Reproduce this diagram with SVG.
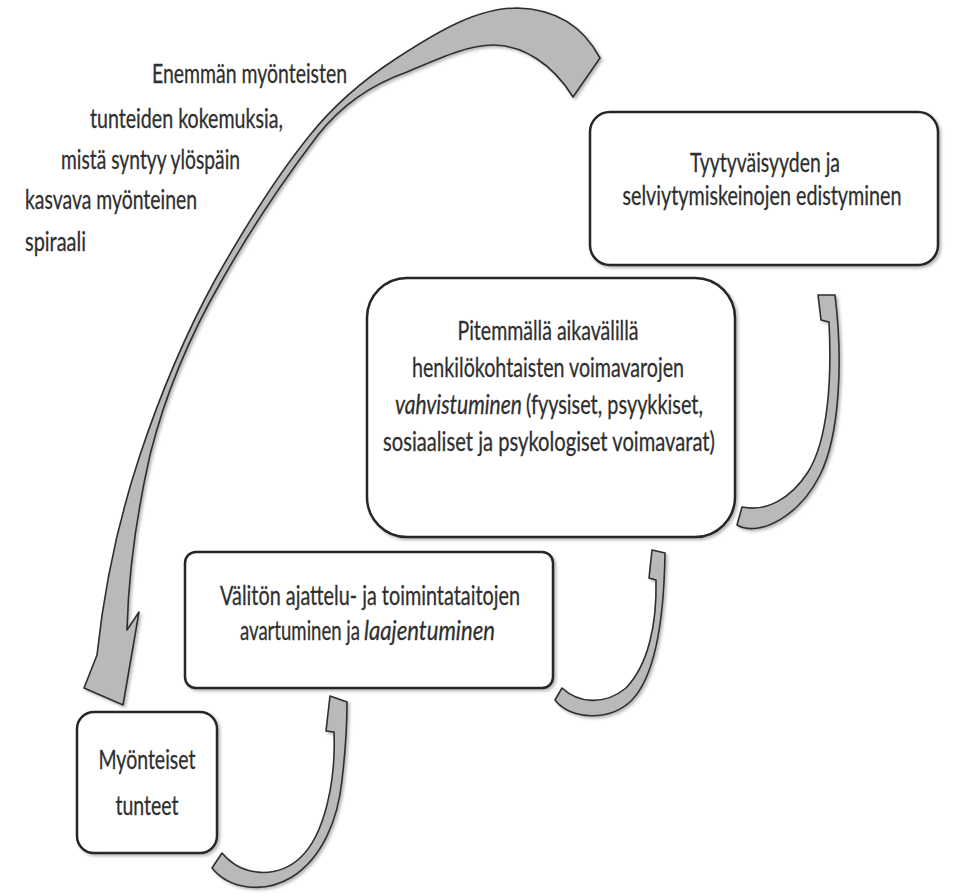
<svg xmlns="http://www.w3.org/2000/svg" width="953" height="894" viewBox="0 0 953 894">
  <style>
    .box { fill: #ffffff; stroke: #262626; stroke-width: 2.5; filter: url(#shadow); }
    .arrow { fill: #b9b9b9; stroke: #2e2e2e; stroke-width: 1.6; stroke-linejoin: round; filter: url(#shadow); }
    .t { font-family: Lato, "Liberation Sans", Arial, sans-serif; font-size: 27px; fill: #2f2f2f; stroke: #2f2f2f; stroke-width: 0.3; }
    .c { text-anchor: middle; }
    .i { font-style: italic; }
  </style>
  <defs>
    <filter id="shadow" x="-10%" y="-10%" width="130%" height="130%">
      <feDropShadow dx="2" dy="2" stdDeviation="1.8" flood-color="#000" flood-opacity="0.28"/>
    </filter>
  </defs>
  <rect width="953" height="894" fill="#ffffff"/>

  <!-- connectors: curved block arrows -->
  <g id="connectors">
    <!-- long spiral arrow back down to the first box -->
    <path class="arrow" d="M600,58 C585,30 560,9 517,8 C478,8 440,30 397,58 C360,82 330,110 310,135 C280,172 250,218 215,280 C185,335 160,395 140,455 C125,500 106,570 97,655 L84,688 L123,705 L139,612 L127,630 C128,590 133,530 150,455 C165,395 190,335 222,280 C255,222 285,178 318,135 C340,107 370,85 407,72 C440,58 468,45 493,45 C522,45 552,63 573,97 Z"/>
    <!-- Myönteiset tunteet -> Välitön -->
    <path class="arrow" d="M212,868 C228,888 262,895 292,877 C322,858 338,820 342,780 C345,755 347,725 347,702 L330,696 L326,731 L334,732 C336,780 325,835 300,858 C278,878 243,878 222,853 Z"/>
    <!-- Välitön -> Pitemmällä -->
    <path class="arrow" d="M555,700 C570,720 610,722 632,700 C655,676 664,620 665,553 L652,550 L649,578 L656,580 C657,625 648,665 626,688 C604,706 578,703 562,688 Z"/>
    <!-- Pitemmällä -> Tyytyväisyyden -->
    <path class="arrow" d="M737,525 C760,538 800,515 820,475 C840,435 843,360 835,295 L818,295 L821,320 L829,322 C832,380 828,440 808,472 C790,500 765,512 742,507 Z"/>
  </g>

  <!-- all wording is drawn in a horizontally narrowed frame (x scaled by 0.76) -->
  <g transform="scale(0.76,1)">
    <g id="spiral-label" class="t">
      <text x="200" y="83" textLength="256.6" lengthAdjust="spacingAndGlyphs">Enemmän myönteisten</text>
      <text x="118.4" y="128" textLength="253.9" lengthAdjust="spacingAndGlyphs">tunteiden kokemuksia,</text>
      <text x="80.3" y="169" textLength="235.5" lengthAdjust="spacingAndGlyphs">mistä syntyy ylöspäin</text>
      <text x="32.9" y="209" textLength="226.3" lengthAdjust="spacingAndGlyphs">kasvava myönteinen</text>
      <text x="32.9" y="251" textLength="80.3" lengthAdjust="spacingAndGlyphs">spiraali</text>
    </g>
  </g>

  <g id="node-myonteiset">
    <rect class="box" x="77" y="712" width="140" height="141" rx="17"/>
    <g transform="scale(0.76,1)">
      <text class="t c" x="193.4" y="769" textLength="127.6" lengthAdjust="spacingAndGlyphs">Myönteiset</text>
      <text class="t c" x="193.4" y="815" textLength="82.9" lengthAdjust="spacingAndGlyphs">tunteet</text>
    </g>
  </g>

  <g id="node-valiton">
    <rect class="box" x="185" y="552" width="368" height="136" rx="11"/>
    <g transform="scale(0.76,1)">
      <text class="t c" x="486.8" y="605" textLength="394.7" lengthAdjust="spacingAndGlyphs">Välitön ajattelu- ja toimintataitojen</text>
      <text class="t" x="315.8" y="640" textLength="157.9" lengthAdjust="spacingAndGlyphs">avartuminen ja</text>
      <text class="t i" x="478.9" y="640" textLength="172.4" lengthAdjust="spacingAndGlyphs">laajentuminen</text>
    </g>
  </g>

  <g id="node-pitemmalla">
    <rect class="box" x="367" y="278" width="368" height="259" rx="40"/>
    <g transform="scale(0.76,1)">
      <text class="t c" x="721.1" y="340" textLength="238.2" lengthAdjust="spacingAndGlyphs">Pitemmällä aikavälillä</text>
      <text class="t c" x="721.1" y="377" textLength="357.9" lengthAdjust="spacingAndGlyphs">henkilökohtaisten voimavarojen</text>
      <text class="t i" x="519.7" y="414" textLength="167.1" lengthAdjust="spacingAndGlyphs">vahvistuminen</text>
      <text class="t" x="692.1" y="414" textLength="232.9" lengthAdjust="spacingAndGlyphs">(fyysiset, psyykkiset,</text>
      <text class="t c" x="722.4" y="451" textLength="436.8" lengthAdjust="spacingAndGlyphs">sosiaaliset ja psykologiset voimavarat)</text>
    </g>
  </g>

  <g id="node-tyytyvaisyys">
    <rect class="box" x="590" y="112" width="348" height="153" rx="20"/>
    <g transform="scale(0.76,1)">
      <text class="t c" x="1006.6" y="172" textLength="197.4" lengthAdjust="spacingAndGlyphs">Tyytyväisyyden ja</text>
      <text class="t c" x="1002.6" y="205" textLength="367.1" lengthAdjust="spacingAndGlyphs">selviytymiskeinojen edistyminen</text>
    </g>
  </g>
</svg>
